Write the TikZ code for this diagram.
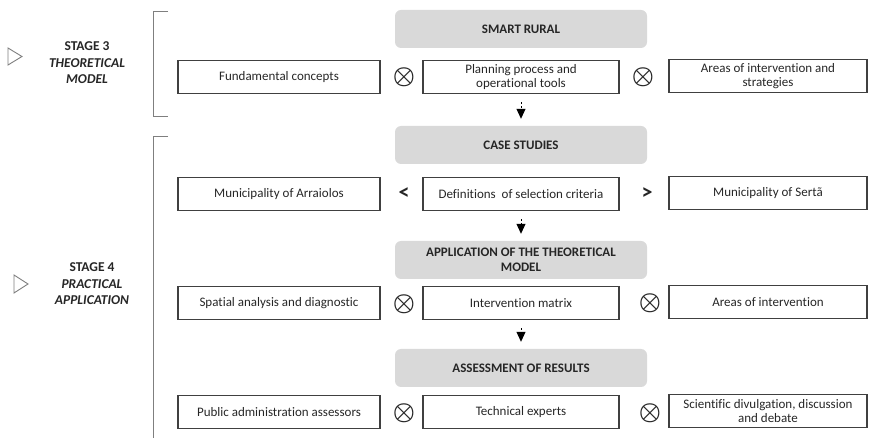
\documentclass[tikz,border=0pt]{standalone}
\usepackage{fontspec}
\setmainfont[Ligatures=NoCommon]{Carlito}
\usetikzlibrary{arrows.meta}
\definecolor{boxgray}{HTML}{D9D9D9}
\definecolor{linegray}{HTML}{404040}
\definecolor{textgray}{HTML}{262626}
\definecolor{bracegray}{HTML}{7F7F7F}

\begin{document}
\begin{tikzpicture}[x=1pt,y=-1pt,
	every node/.style={text=textgray,font=\fontsize{13}{14.5}\selectfont},
	itembox/.style={draw=linegray,line width=1.1pt,shape=rectangle,minimum height=33pt,inner sep=2pt,align=center},
	headbox/.style={fill=boxgray,rounded corners=6pt,minimum width=252pt,minimum height=38pt,align=center,font=\fontsize{13}{15}\selectfont\bfseries},
	opsym/.style={font=\fontsize{23}{23}\selectfont\boldmath},
	stagetext/.style={align=center,font=\fontsize{13.5}{16.5}\selectfont\bfseries},
	nextarrow/.style={draw=black,line width=1pt,dash pattern=on 2pt off 2pt,-{Triangle[width=9pt,length=10pt]},shorten <=8pt,shorten >=7pt}]
	\useasboundingbox (0,0) rectangle (871,438);
	% stages
	\draw[bracegray,line width=0.9pt,fill=white] (8,48) -- (22,56.5) -- (8,65) -- cycle;
	\node[stagetext] (s3) at (87,63) {STAGE 3\\\textit{THEORETICAL}\\\textit{MODEL}};
	\draw[bracegray,line width=0.9pt,fill=white] (14,275) -- (28,284) -- (14,293) -- cycle;
	\node[stagetext] (s4) at (92,284) {STAGE 4\\\textit{PRACTICAL}\\\textit{APPLICATION}};
	\coordinate (b1a) at (168,12);
	\coordinate (b1b) at (168,117);
	\coordinate (b2a) at (168,137);
	\coordinate (b2b) at (153,438);
	\draw[bracegray,line width=1pt] (b1a) -- (153,12) -- (153,117) -- (b1b);
	\draw[bracegray,line width=1pt] (b2a) -- (153,137) -- (b2b);
	% smart rural
	\node[headbox] (h1) at (521,29) {SMART RURAL};
	\node[itembox,minimum width=202pt] (a1) at (279,77) {Fundamental concepts};
	\node[opsym] (o1) at (404,77) {$\otimes$};
	\node[itembox,minimum width=196pt] (b1) at (521,77) {Planning process and\\operational tools};
	\node[opsym] (p1) at (643,77) {$\otimes$};
	\node[itembox,minimum width=198pt] (c1) at (768,76) {Areas of intervention and\\strategies};
	% case studies
	\node[headbox] (h2) at (521,145) {CASE STUDIES};
	\node[itembox,minimum width=202pt] (a2) at (279,194) {Municipality of Arraiolos};
	\node[opsym,font=\fontsize{22}{22}\selectfont\bfseries] (o2) at (404,194) {<};
	\node[itembox,minimum width=196pt] (b2) at (521,194) {Definitions~ of selection criteria};
	\node[opsym,font=\fontsize{22}{22}\selectfont\bfseries] (p2) at (647,194) {>};
	\node[itembox,minimum width=198pt] (c2) at (768,193) {Municipality of Sertã};
	% application
	\node[headbox] (h3) at (521,260) {APPLICATION OF THE THEORETICAL\\MODEL};
	\node[itembox,minimum width=202pt] (a3) at (279,303) {Spatial analysis and diagnostic};
	\node[opsym] (o3) at (404,304) {$\otimes$};
	\node[itembox,minimum width=196pt] (b3) at (521,303) {Intervention matrix};
	\node[opsym] (p3) at (650,303) {$\otimes$};
	\node[itembox,minimum width=198pt] (c3) at (768,302) {Areas of intervention};
	% assessment
	\node[headbox] (h4) at (521,368) {ASSESSMENT OF RESULTS};
	\node[itembox,minimum width=202pt] (a4) at (279,412) {Public administration assessors};
	\node[opsym] (o4) at (404,413) {$\otimes$};
	\node[itembox,minimum width=196pt] (b4) at (521,412) {Technical experts};
	\node[opsym] (p4) at (650,413) {$\otimes$};
	\node[itembox,minimum width=198pt] (c4) at (768,411) {Scientific divulgation, discussion\\and debate};
	\draw[nextarrow] (b1) -- (h2);
	\draw[nextarrow] (b2) -- (h3);
	\draw[nextarrow] (b3) -- (h4);
\end{tikzpicture}
\end{document}
